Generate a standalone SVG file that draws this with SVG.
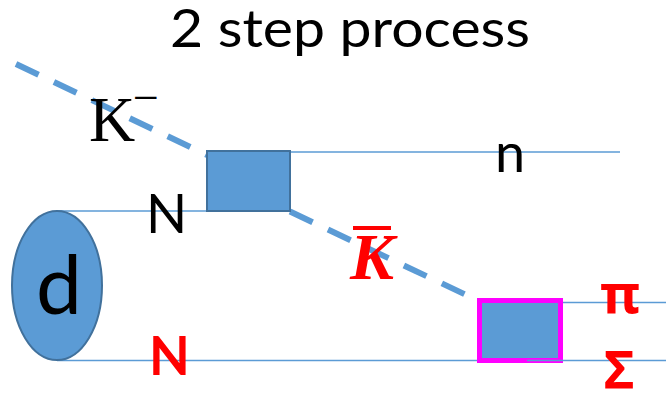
<svg xmlns="http://www.w3.org/2000/svg" width="666" height="393" viewBox="0 0 666 393">
  <style>
    .track { stroke: #5B9BD5; stroke-width: 1.5; fill: none; }
    .kaon { stroke: #5B9BD5; stroke-width: 6; stroke-dasharray: 25 17; fill: none; }
    .vertex { fill: #5B9BD5; }
    .lbl { font-family: Lato, "Liberation Sans", sans-serif; fill: #000; }
    .red { fill: #FF0000; font-weight: bold; }
    .greek { font-family: "Noto Sans", "DejaVu Sans", sans-serif; }
    .serif { font-family: "Liberation Serif", "DejaVu Serif", serif; }
  </style>

  <!-- title -->
  <text class="lbl" x="170" y="47" font-size="53" textLength="360" lengthAdjust="spacingAndGlyphs">2 step process</text>

  <!-- particle lines -->
  <g id="connectors">
    <line class="track" x1="57" y1="211" x2="207" y2="211"/>
    <line class="track" x1="57" y1="360.5" x2="478" y2="360.5"/>
    <line class="track" x1="290" y1="152" x2="620" y2="152"/>
    <line class="track" x1="562" y1="302.5" x2="666" y2="302.5"/>
    <line class="kaon" x1="16" y1="64" x2="207" y2="155"/>
    <line class="kaon" x1="290" y1="211.5" x2="479" y2="301"/>
  </g>

  <!-- deuteron -->
  <g id="deuteron">
    <ellipse class="vertex" cx="57" cy="285.5" rx="45" ry="74.5" stroke="#41719C" stroke-width="2"/>
    <text class="lbl" x="36" y="314" font-size="82">d</text>
  </g>

  <!-- first interaction vertex -->
  <g id="vertex1">
    <rect class="vertex" x="207" y="151" width="83" height="60" stroke="#41719C" stroke-width="2"/>
  </g>

  <!-- second interaction vertex -->
  <g id="vertex2">
    <rect class="vertex" x="479.5" y="300.5" width="81" height="60" stroke="#FF00FF" stroke-width="5"/>
    <line class="track" x1="527" y1="360.5" x2="666" y2="360.5"/>
  </g>

  <!-- labels -->
  <g id="label-kminus">
    <text class="serif" x="89" y="141" font-size="64">K</text>
    <text class="serif" x="133" y="113" font-size="46">−</text>
  </g>
  <g id="label-n-spectator">
    <text class="lbl" x="146" y="233" font-size="54">N</text>
  </g>
  <g id="label-n-out">
    <text class="lbl" x="495" y="172" font-size="54">n</text>
  </g>
  <g id="label-kbar">
    <text class="serif red" x="350" y="279" font-size="66" font-style="italic">K</text>
    <rect x="353" y="226" width="38" height="4" fill="#FF0000"/>
  </g>
  <g id="label-n-red">
    <text class="lbl red" x="149" y="375" font-size="53">N</text>
  </g>
  <g id="label-pi">
    <text class="greek red" x="600" y="313" font-size="54">π</text>
  </g>
  <g id="label-sigma">
    <text class="greek red" x="604" y="388" font-size="52">Σ</text>
  </g>
</svg>
